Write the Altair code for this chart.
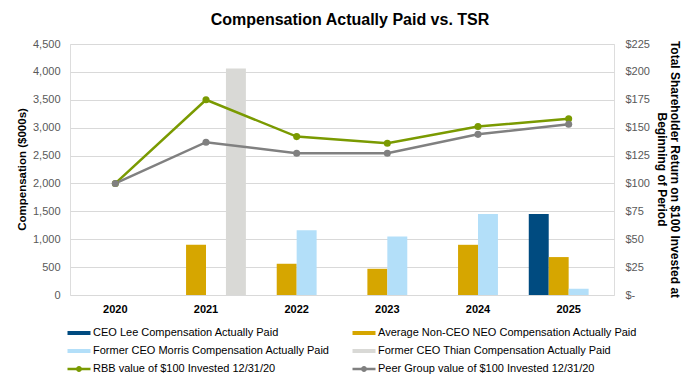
import altair as alt
import pandas as pd

years = ["2020", "2021", "2022", "2023", "2024", "2025"]

bar_series = [
    "CEO Lee Compensation Actually Paid",
    "Average Non-CEO NEO Compensation Actually Paid",
    "Former CEO Morris Compensation Actually Paid",
    "Former CEO Thian Compensation Actually Paid",
]
line_series = [
    "RBB value of $100 Invested 12/31/20",
    "Peer Group value of $100 Invested 12/31/20",
]

lee = [None, None, None, None, None, 1450]
avg_neo = [None, 900, 560, 470, 900, 680]
morris = [None, None, 1160, 1050, 1450, 110]
thian = [None, 4060, None, None, None, None]

rbb = [100, 175, 142, 136, 151, 158]
peer = [100, 137, 127, 127, 144, 153]

colors = ["#004b80", "#d6a600", "#b3dff9", "#d9d9d6", "#7a9a01", "#808080"]

bar_rows = []
for name, vals in zip(bar_series, [lee, avg_neo, morris, thian]):
    for y, v in zip(years, vals):
        if v is not None:
            bar_rows.append({"Year": y, "Series": name, "Value": v})
bar_df = pd.DataFrame(bar_rows)

line_rows = []
for name, vals in zip(line_series, [rbb, peer]):
    for y, v in zip(years, vals):
        line_rows.append({"Year": y, "Series": name, "Value": v})
line_df = pd.DataFrame(line_rows)

all_series = bar_series + line_series
color_scale = alt.Scale(domain=all_series, range=colors)

rect_path = "M-1.15,-0.2H1.15V0.2H-1.15Z"
line_path = ("M-1.15,-0.12H-0.25V0.12H-1.15Z M0.25,-0.12H1.15V0.12H0.25Z "
             "M0.3,0A0.3,0.3 0 1,1 -0.3,0A0.3,0.3 0 1,1 0.3,0Z")

legend = alt.Legend(
    title=None,
    orient="none",
    direction="horizontal",
    legendX=-1,
    legendY=279,
    columns=2,
    columnPadding=22,
    rowPadding=3,
    padding=0,
    symbolType=alt.ExprRef(
        expr="indexof(datum.label, 'Invested') >= 0 ? '" + line_path + "' : '" + rect_path + "'"
    ),
    symbolSize=400,
    symbolStrokeWidth=0,
    symbolFillColor=alt.ExprRef(expr="scale('color', datum.value)"),
    symbolOpacity=1,
    labelFontSize=11,
    labelColor="#000000",
    labelFont="Liberation Sans",
    labelOffset=4,
    labelLimit=400,
)

x_enc = alt.X(
    "Year:N",
    scale=alt.Scale(domain=years, paddingInner=0.12, paddingOuter=0.06),
    axis=alt.Axis(
        title=None, labelAngle=0, labelFontWeight="bold", labelFontSize=11,
        labelColor="#000000", ticks=False, domain=False, labelPadding=8,
    ),
)

bars = alt.Chart(bar_df).mark_bar().encode(
    x=x_enc,
    xOffset=alt.XOffset("Series:N", scale=alt.Scale(domain=bar_series, paddingInner=0, paddingOuter=0)),
    y=alt.Y(
        "Value:Q",
        scale=alt.Scale(domain=[0, 4500], nice=False),
        axis=alt.Axis(
            title="Compensation ($000s)",
            values=list(range(0, 4501, 500)),
            labelExpr="format(datum.value, ',')",
            labelOverlap=False,
            orient="left",
            grid=True, gridColor="#d9d9d9", gridWidth=1,
            domain=False, ticks=False, tickSize=0, labelPadding=10,
            labelFontSize=11, labelColor="#595959",
            titleFontSize=11.5, titleFontWeight="bold", titleColor="#000000",
            titleX=-48, titleY=125, titleAngle=270, titleAlign="center", titleBaseline="middle",
        ),
    ),
    color=alt.Color("Series:N", scale=color_scale, legend=legend, sort=all_series),
)

right_axis = alt.Axis(
    title=["Total Shareholder Return on $100 Invested at", "Beginning of Period"],
    values=list(range(0, 226, 25)),
    tickCount=10,
    labelExpr="datum.value == 0 ? '$-' : '$' + datum.value",
    labelOverlap=False,
    labelBound=False,
    orient="right",
    grid=False, domain=False, ticks=False, tickSize=0, labelPadding=11,
    labelFontSize=11, labelColor="#595959",
    titleFontSize=12, titleFontWeight="bold", titleColor="#000000",
    titleX=60, titleY=125, titleAngle=90, titleAlign="center", titleBaseline="middle",
    titleLineHeight=13,
)

line_y = alt.Y("Value:Q", scale=alt.Scale(domain=[0, 225], nice=False), axis=right_axis)

lines = alt.Chart(line_df).mark_line(strokeWidth=2.5).encode(
    x=alt.X("Year:N"),
    y=line_y,
    color=alt.Color("Series:N", scale=color_scale, legend=legend, sort=all_series),
)

points = alt.Chart(line_df).mark_point(filled=True, size=50, opacity=1).encode(
    x=alt.X("Year:N"),
    y=line_y,
    color=alt.Color("Series:N", scale=color_scale, legend=legend, sort=all_series),
)

chart = alt.layer(bars, alt.layer(lines, points)).resolve_scale(
    y="independent"
).properties(
    width=544,
    height=251,
    padding={"left": 62, "top": 36, "right": 78, "bottom": 82},
    autosize=alt.AutoSizeParams(type="none"),
    title=alt.TitleParams(
        "Compensation Actually Paid vs. TSR",
        fontSize=16, fontWeight="bold", color="#000000", font="Liberation Sans",
        anchor="middle", dx=8, dy=22, offset=19, baseline="alphabetic",
    ),
).configure_view(stroke=None).configure(font="Liberation Sans")

chart.save("out.html", embed_options={"renderer": "svg", "actions": False})
